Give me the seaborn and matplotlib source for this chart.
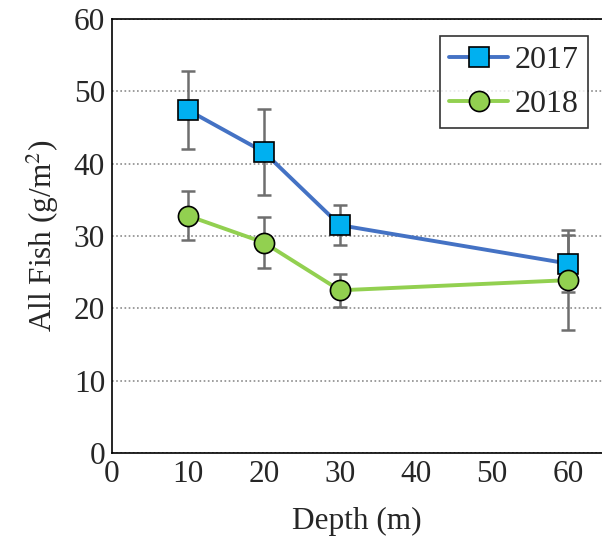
import numpy as np
import pandas as pd
import seaborn as sns
import matplotlib.pyplot as plt

# dados
depth = [10, 20, 30, 60]
fish_2017 = [47.4, 41.6, 31.5, 26.2]
err_2017 = [5.4, 6.0, 2.8, 3.9]
fish_2018 = [32.8, 29.1, 22.5, 23.9]
err_2018 = [3.4, 3.5, 2.3, 6.9]

df = pd.DataFrame({"depth": depth, "y2017": fish_2017, "y2018": fish_2018})

sns.set_style("white")
plt.rcParams["font.family"] = ["Liberation Serif", "DejaVu Serif"]
plt.rcParams["mathtext.fontset"] = "stix"

fig = plt.figure(figsize=(6.02, 5.56), dpi=100)
ax = fig.add_axes([0.186, 0.185, 0.814, 0.781])

ax.errorbar(depth, fish_2017, yerr=err_2017, fmt="none", ecolor="#6e6e6e",
            elinewidth=1.8, capsize=5, capthick=1.8, zorder=2)
ax.errorbar(depth, fish_2018, yerr=err_2018, fmt="none", ecolor="#6e6e6e",
            elinewidth=1.8, capsize=5, capthick=1.8, zorder=2)

sns.lineplot(data=df, x="depth", y="y2017", ax=ax, color="#4472C4", lw=2.8,
             marker="s", markersize=14, markerfacecolor="#00B0F0",
             markeredgecolor="black", markeredgewidth=1.2, label="2017", zorder=3)
sns.lineplot(data=df, x="depth", y="y2018", ax=ax, color="#92D050", lw=2.8,
             marker="o", markersize=14.5, markerfacecolor="#92D050",
             markeredgecolor="black", markeredgewidth=1.2, label="2018", zorder=4)

ax.set_xlim(0, 64.5)
ax.set_ylim(0, 60)
ax.set_xticks(range(0, 61, 10))
ax.set_yticks(range(0, 61, 10))
ax.tick_params(axis="x", labelsize=22.5, length=0, pad=5)
ax.tick_params(axis="y", labelsize=22.5, length=0, pad=5)
ax.yaxis.grid(True, linestyle=(0, (1, 1.5)), color="#8c8c8c", lw=1.2)
ax.xaxis.grid(False)

for s in ["left", "bottom", "top"]:
    ax.spines[s].set_color("black")
    ax.spines[s].set_linewidth(1.2)
ax.spines["right"].set_visible(False)

ax.set_xlabel("Depth (m)", fontsize=22.5, labelpad=13)
ax.set_ylabel("All Fish (g/m$^2$)", fontsize=22.5, labelpad=9)

leg = ax.legend(loc="upper right", bbox_to_anchor=(0.985, 0.975), fontsize=23,
                frameon=True, fancybox=False, edgecolor="black",
                handlelength=1.85, borderpad=0.3, labelspacing=0.45,
                handletextpad=0.2, borderaxespad=0.2)
leg.get_frame().set_linewidth(1.2)

plt.savefig("out.png", dpi=100)
